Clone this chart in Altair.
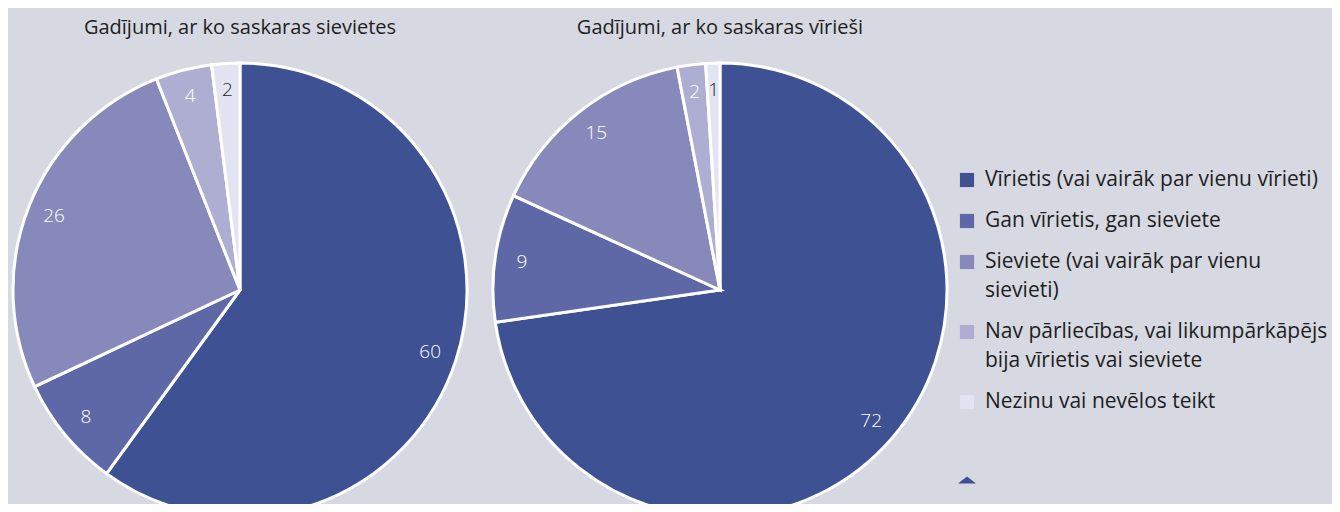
import altair as alt
import pandas as pd

categories = [
    "Vīrietis (vai vairāk par vienu vīrieti)",
    "Gan vīrietis, gan sieviete",
    "Sieviete (vai vairāk par vienu sievieti)",
    "Nav pārliecības, vai likumpārkāpējs bija vīrietis vai sieviete",
    "Nezinu vai nevēlos teikt",
]
legend_lines = [
    ["Vīrietis (vai vairāk par vienu vīrieti)"],
    ["Gan vīrietis, gan sieviete"],
    ["Sieviete (vai vairāk par vienu", "sievieti)"],
    ["Nav pārliecības, vai likumpārkāpējs", "bija vīrietis vai sieviete"],
    ["Nezinu vai nevēlos teikt"],
]
women = [60, 8, 26, 4, 2]
men = [72, 9, 15, 2, 1]
titles = ["Gadījumi, ar ko saskaras sievietes", "Gadījumi, ar ko saskaras vīrieši"]
colors = ["#3d5193", "#5e68a6", "#8789ba", "#aeaed3", "#e3e4f1"]

BG = "#d6d9e2"
FONT = "Open Sans"
TXT = "#1e1e1e"

color_scale = alt.Scale(domain=categories, range=colors)


def pie(values, title, cx):
    df = pd.DataFrame({"category": categories, "value": values, "order": list(range(len(categories)))})
    base = alt.Chart(df).encode(
        theta=alt.Theta("value:Q", stack=True),
        order=alt.Order("order:Q"),
        x=alt.value(cx),
        y=alt.value(282),
    )
    arcs = base.mark_arc(outerRadius=227, stroke="white", strokeWidth=3).encode(
        color=alt.Color("category:N", scale=color_scale, legend=None, sort=categories)
    )
    labels = base.mark_text(radius=200, font=FONT, fontSize=19, fontWeight=300).encode(
        text=alt.Text("value:Q"),
        color=alt.condition(
            alt.datum.category == categories[-1], alt.value(TXT), alt.value("white")
        ),
    )
    tdf = pd.DataFrame({"t": [title]})
    ttl = alt.Chart(tdf).mark_text(
        font=FONT, fontSize=20, color=TXT, baseline="middle", align="center"
    ).encode(text="t:N", x=alt.value(cx), y=alt.value(20))
    return alt.layer(arcs, labels, ttl)


left = pie(women, titles[0], 232)
right = pie(men, titles[1], 712)

# manual legend (symbols + wrapped labels)
LINE_H = 29
ENTRY_GAP = 41
sym_rows, txt_rows = [], []
ypos = 172
for cat, lines in zip(categories, legend_lines):
    sym_rows.append({"category": cat, "y": ypos})
    for j, line in enumerate(lines):
        txt_rows.append({"text": line, "y": ypos + j * LINE_H})
    ypos += ENTRY_GAP + LINE_H * (len(lines) - 1)
sym_df = pd.DataFrame(sym_rows)
txt_df = pd.DataFrame(txt_rows)

leg_sym = alt.Chart(sym_df).mark_square(size=200, opacity=1).encode(
    x=alt.value(959),
    y=alt.Y("y:Q", scale=None, axis=None),
    color=alt.Color("category:N", scale=color_scale, legend=None, sort=categories),
)
leg_txt = alt.Chart(txt_df).mark_text(
    font=FONT, fontSize=21, color=TXT, align="left", baseline="middle"
).encode(
    x=alt.value(977),
    y=alt.Y("y:Q", scale=None, axis=None),
    text="text:N",
)

tri = alt.Chart(pd.DataFrame({"k": [0]})).mark_point(
    shape="M-1,0.4L0,-0.4L1,0.4Z", filled=True, color="#3d5193", size=324, opacity=1
).encode(x=alt.value(959), y=alt.value(472))

chart = (
    alt.layer(left, right, leg_sym, leg_txt, tri)
    .resolve_scale(theta="independent")
    .properties(
        width=1324,
        height=496,
        padding=0,
        autosize=alt.AutoSizeParams(type="none"),
        background=BG,
    )
    .configure_view(stroke=None)
)

chart.save("out.html", embed_options={"renderer": "svg", "actions": False})
